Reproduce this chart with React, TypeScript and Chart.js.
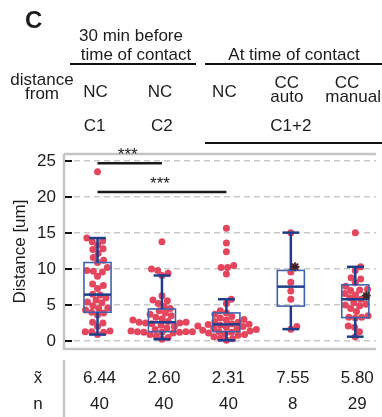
import React, { useEffect, useRef } from "react";
import { Chart, registerables } from "chart.js";

Chart.register(...registerables);

// ---------------- data ----------------
const categories = ["NC C1", "NC C2", "NC C1+2", "CC auto C1+2", "CC manual C1+2"];

const distNC_C1 = [0.9, 1.2, 1.3, 1.3, 1.4, 2.0, 2.5, 2.6, 3.6, 3.9, 4.0, 4.3, 4.5, 4.6, 4.9, 5.3, 5.4, 5.7, 6.0, 6.4,
  6.48, 7.3, 7.7, 7.9, 9.0, 9.6, 9.7, 9.8, 10.2, 10.9, 11.2, 11.6, 12.2, 12.7, 12.8, 13.3, 13.8, 13.9, 14.3, 23.5];
const distNC_C2 = [0.25, 0.5, 0.7, 0.9, 1.1, 1.2, 1.2, 1.2, 1.3, 1.3, 1.3, 1.4, 1.6, 1.8, 2.0, 2.2, 2.4, 2.5, 2.5, 2.6,
  2.6, 2.7, 2.9, 3.1, 3.3, 3.5, 3.7, 3.9, 4.2, 4.5, 4.8, 5.2, 5.6, 5.7, 6.3, 9.1, 9.4, 9.8, 10.0, 13.8];
const distNC_C12 = [0.1, 0.3, 0.4, 0.6, 0.8, 0.9, 1.0, 1.1, 1.2, 1.3, 1.4, 1.5, 1.6, 1.7, 1.8, 1.9, 2.0, 2.1, 2.2, 2.3,
  2.32, 2.4, 2.6, 2.7, 2.9, 3.0, 3.2, 3.4, 3.7, 3.9, 4.2, 5.2, 5.8, 9.3, 10.2, 10.2, 10.5, 12.4, 13.6, 15.65];
const distCCauto = [1.65, 2.0, 5.8, 6.95, 8.15, 9.6, 10.3, 15.05];
const distCCmanual = [0.6, 1.3, 1.9, 2.1, 3.2, 3.3, 3.3, 3.5, 4.1, 4.5, 4.9, 5.0, 5.1, 5.3, 5.8, 6.0, 6.3, 6.4, 6.6, 7.0,
  7.1, 7.2, 7.6, 8.1, 8.6, 8.8, 9.8, 10.3, 15.05];
const groupValues = [distNC_C1, distNC_C2, distNC_C12, distCCauto, distCCmanual];

// box statistics
const boxQ1 = [4.0, 1.3, 1.3, 4.85, 3.25];
const medians = [6.44, 2.60, 2.31, 7.55, 5.80];
const boxQ3 = [10.9, 4.45, 3.9, 9.8, 7.8];
const whiskerLow = [0.9, 0.25, 0.1, 1.65, 0.6];
const whiskerHigh = [14.3, 9.1, 5.8, 15.05, 10.3];

// highlighted example points (marked with a star)
const starValues: (number | null)[] = [null, null, null, 10.3, 6.3];

const yTicks = [0, 5, 10, 15, 20, 25];

// significance bars
const sigFrom = [0, 0];
const sigTo = [1, 2];
const sigY = [24.7, 20.7];
const sigLabel = ["***", "***"];

// header / footer text
const rowNC = ["NC", "NC", "NC"];
const rowCC = ["CC", "CC"];
const rowCCsub = ["auto", "manual"];
const rowCell = ["C1", "C2", "C1+2"];
const nCounts = groupValues.map((g) => g.length);

// ---------------- style ----------------
const FONT = "'Liberation Sans', Arial, Helvetica, sans-serif";
const TEXT = "#1c1c1c";
const POINT = "#e4465e";
const BOX_EDGE = "#4262ab";
const BOX_DARK = "#1e3d8c";
const FRAME = "#c4c4c4";

function swarm(vals: number[], center: number, xs: any, ys: any, diam: number): number[] {
  const order = vals.map((_, i) => i).sort((a, b) => vals[a] - vals[b]);
  const placed: { x: number; y: number }[] = [];
  const res: number[] = new Array(vals.length);
  const cx = xs.getPixelForValue(center);
  for (const i of order) {
    const py = ys.getPixelForValue(vals[i]);
    const cands = [0];
    for (const p of placed) {
      const dy = py - p.y;
      if (Math.abs(dy) < diam) {
        const dx = Math.sqrt(diam * diam - dy * dy);
        cands.push(p.x + dx, p.x - dx);
      }
    }
    cands.sort((a, b) => Math.abs(a) - Math.abs(b));
    let chosen = 0;
    for (const c of cands) {
      if (placed.every((p) => (p.x - c) ** 2 + (p.y - py) ** 2 >= diam * diam - 0.01)) {
        chosen = c;
        break;
      }
    }
    placed.push({ x: chosen, y: py });
    res[i] = xs.getValueForPixel(cx + chosen);
  }
  return res;
}

function line(ctx: CanvasRenderingContext2D, x1: number, y1: number, x2: number, y2: number, color: string, w: number) {
  ctx.save();
  ctx.strokeStyle = color;
  ctx.lineWidth = w;
  ctx.setLineDash([]);
  ctx.beginPath();
  ctx.moveTo(x1, y1);
  ctx.lineTo(x2, y2);
  ctx.stroke();
  ctx.restore();
}

function txt(ctx: CanvasRenderingContext2D, s: string, x: number, y: number, align: CanvasTextAlign = "center", font = `17px ${FONT}`) {
  ctx.save();
  ctx.font = font;
  ctx.textAlign = align;
  ctx.textBaseline = "alphabetic";
  ctx.fillStyle = TEXT;
  ctx.fillText(s, x, y);
  ctx.restore();
}

const overlayPlugin = {
  id: "overlay",
  afterDatasetDraw(chart: any, args: any) {
    if (args.index !== 1) return;
    const ctx: CanvasRenderingContext2D = chart.ctx;
    const xs = chart.scales.x;
    const ys = chart.scales.y;
    categories.forEach((_, i) => {
      const cx = xs.getPixelForValue(i);
      const l = xs.getPixelForValue(i - 0.21);
      const r = xs.getPixelForValue(i + 0.21);
      const capL = xs.getPixelForValue(i - 0.13);
      const capR = xs.getPixelForValue(i + 0.13);
      const yq1 = ys.getPixelForValue(boxQ1[i]);
      const yq3 = ys.getPixelForValue(boxQ3[i]);
      const ymed = ys.getPixelForValue(medians[i]);
      const ylo = ys.getPixelForValue(whiskerLow[i]);
      const yhi = ys.getPixelForValue(whiskerHigh[i]);
      ctx.save();
      ctx.strokeStyle = BOX_EDGE;
      ctx.lineWidth = 1.6;
      ctx.strokeRect(l, yq3, r - l, yq1 - yq3);
      ctx.restore();
      line(ctx, cx, yq3, cx, yhi, BOX_DARK, 2.5);
      line(ctx, cx, yq1, cx, ylo, BOX_DARK, 2.5);
      line(ctx, capL, yhi, capR, yhi, BOX_DARK, 2.5);
      line(ctx, capL, ylo, capR, ylo, BOX_DARK, 2.5);
      line(ctx, l, ymed, r, ymed, BOX_DARK, 2.5);
    });
  },
  afterDraw(chart: any) {
    const ctx: CanvasRenderingContext2D = chart.ctx;
    const xs = chart.scales.x;
    const ys = chart.scales.y;
    const a = chart.chartArea;
    // frame
    line(ctx, a.left, a.top, a.left, a.bottom + 1, FRAME, 2.5);
    line(ctx, a.left, a.top, a.right, a.top, FRAME, 2.5);
    line(ctx, a.left, a.bottom, a.right, a.bottom, FRAME, 2.5);
    // inward tick marks
    yTicks.forEach((v) => {
      const y = ys.getPixelForValue(v);
      line(ctx, a.left + 1, y, a.left + 8, y, "#111", 2);
    });
    // significance bars
    sigFrom.forEach((f, k) => {
      const x1 = xs.getPixelForValue(f);
      const x2 = xs.getPixelForValue(sigTo[k]);
      const y = ys.getPixelForValue(sigY[k]);
      line(ctx, x1, y, x2, y, "#1a1a1a", 2.5);
      txt(ctx, sigLabel[k], (x1 + x2) / 2 - 2, y - 3);
    });
    // header
    txt(ctx, "C", 25, 28, "left", `bold 24px ${FONT}`);
    txt(ctx, "30 min before", 131, 41);
    txt(ctx, "time of contact", 136, 60);
    txt(ctx, "At time of contact", 294, 60);
    line(ctx, 70, 64, 196, 64, "#111", 2.2);
    line(ctx, 205, 64, 382, 64, "#111", 2.2);
    txt(ctx, "distance", 42, 85);
    txt(ctx, "from", 42, 99);
    rowNC.forEach((s, i) => txt(ctx, s, xs.getPixelForValue(i) - 2, 97));
    txt(ctx, rowCC[0], xs.getPixelForValue(3) - 4, 88);
    txt(ctx, rowCCsub[0], xs.getPixelForValue(3) - 4, 102);
    txt(ctx, rowCC[1], 347, 88);
    txt(ctx, rowCCsub[1], 381, 102, "right");
    txt(ctx, rowCell[0], xs.getPixelForValue(0) - 3, 131);
    txt(ctx, rowCell[1], xs.getPixelForValue(1), 131);
    txt(ctx, rowCell[2], xs.getPixelForValue(3), 131);
    line(ctx, 205, 143, 382, 143, "#111", 2.2);
    // footer table
    line(ctx, a.left, 360, a.left, 417, FRAME, 2.5);
    txt(ctx, "x\u0303", 38, 383);
    txt(ctx, "n", 38, 409);
    medians.forEach((m, i) => {
      const x = xs.getPixelForValue(i) + 2;
      txt(ctx, m.toFixed(2), x, 383);
      txt(ctx, String(nCounts[i]), x, 409);
    });
  },
};

export default function App() {
  const ref = useRef<HTMLCanvasElement>(null);
  useEffect(() => {
    const canvas = ref.current;
    if (!canvas) return;
    const chart = new Chart(canvas, {
      type: "scatter",
      data: {
        datasets: [
          {
            label: "example",
            data: [],
            pointStyle: "star",
            pointRadius: 4.5,
            borderColor: "#3a2426",
            backgroundColor: "#3a2426",
            borderWidth: 1.6,
          },
          {
            label: "distance",
            data: [],
            pointRadius: 3.5,
            backgroundColor: POINT,
            borderWidth: 0,
          },
        ],
      } as any,
      options: {
        animation: false,
        responsive: false,
        devicePixelRatio: 1,
        events: [],
        layout: { padding: { top: 154, bottom: 68, left: 0, right: 0 } },
        plugins: { legend: { display: false }, tooltip: { enabled: false }, title: { display: false } },
        scales: {
          x: { type: "linear", min: -0.52, max: 4.32, display: false },
          y: {
            type: "linear",
            min: -1.11,
            max: 25.97,
            afterBuildTicks: (s: any) => {
              s.ticks = yTicks.map((v) => ({ value: v }));
            },
            afterFit: (s: any) => {
              s.width = 64;
            },
            ticks: { font: { family: FONT, size: 17 }, color: TEXT, padding: 8 },
            grid: { color: "#c8c8c8", lineWidth: 1.5, drawTicks: false },
            border: { display: false, dash: [6, 4] },
            title: {
              display: true,
              text: "Distance [um]",
              font: { family: FONT, size: 17 },
              color: TEXT,
              padding: { top: 10, bottom: 0 },
            },
          },
        },
      } as any,
      plugins: [overlayPlugin],
    });
    const xs = chart.scales.x;
    const ys = chart.scales.y;
    const pts: { x: number; y: number }[] = [];
    const stars: { x: number; y: number }[] = [];
    groupValues.forEach((vals, g) => {
      const xv = swarm(vals, g, xs, ys, 6.6);
      vals.forEach((v, k) => pts.push({ x: xv[k], y: v }));
      const sv = starValues[g];
      if (sv != null) {
        // among the points at the starred value, mark the one nearest the box centre
        let best = -1;
        vals.forEach((v, k) => {
          if (Math.abs(v - sv) > 0.05) return;
          if (best < 0 || Math.abs(xv[k] - g) < Math.abs(xv[best] - g)) best = k;
        });
        if (best >= 0) stars.push({ x: xv[best], y: vals[best] });
      }
    });
    (chart.data.datasets[0] as any).data = stars;
    (chart.data.datasets[1] as any).data = pts;
    chart.update("none");
    return () => chart.destroy();
  }, []);
  return (
    <div style={{ position: "absolute", left: 0, top: 0, width: 382, height: 417 }}>
      <canvas ref={ref} width={382} height={417} style={{ display: "block", width: 382, height: 417 }} />
    </div>
  );
}
